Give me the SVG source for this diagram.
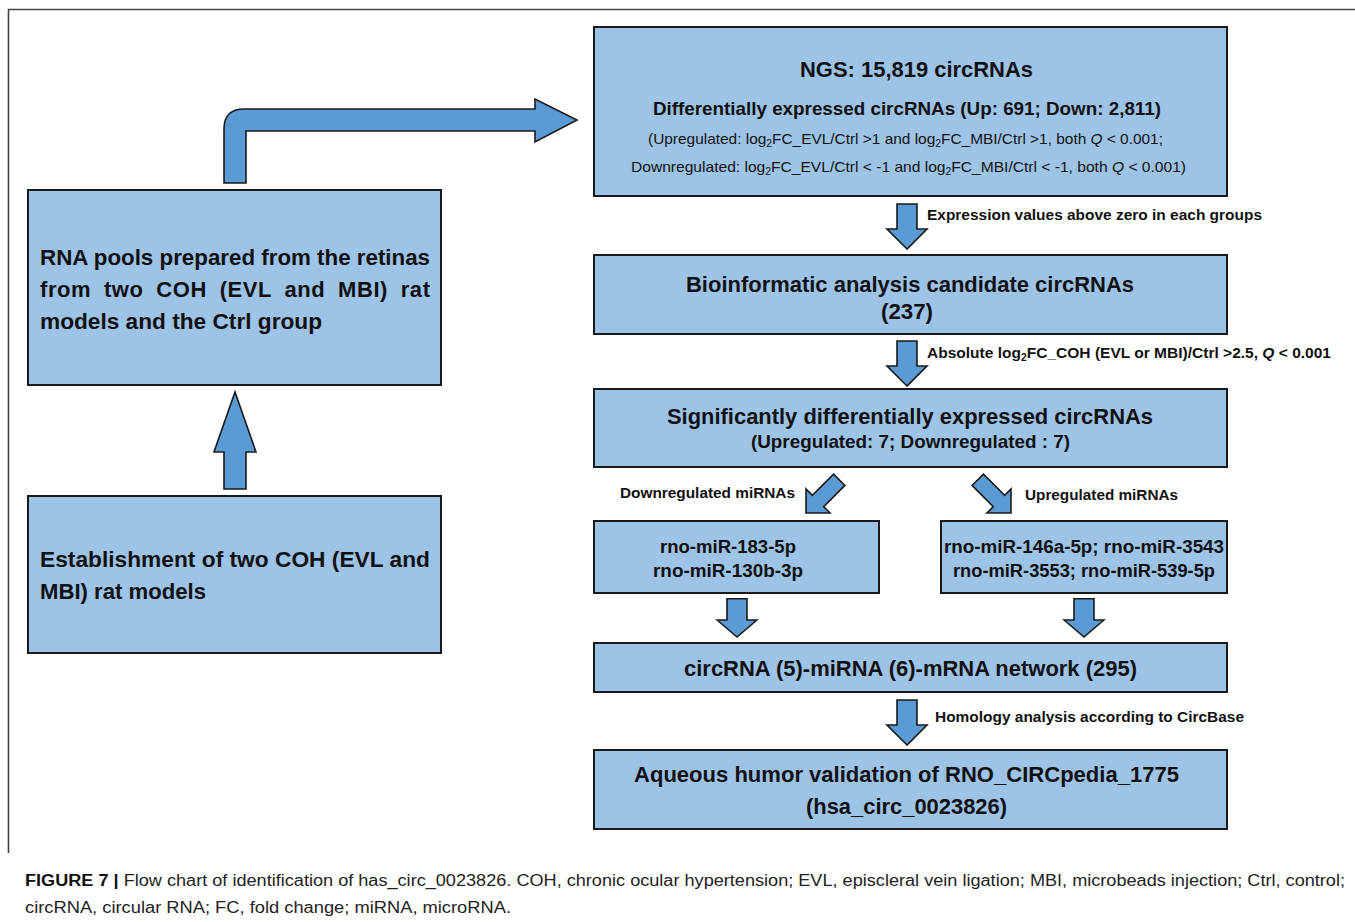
<svg xmlns="http://www.w3.org/2000/svg" width="1355" height="922" viewBox="0 0 1355 922">
<style>
.box{fill:#9dc3e6;stroke:#1a1a1a;stroke-width:2}
.arr{fill:#5b9bd5;stroke:#1a1a1a;stroke-width:1.6;stroke-linejoin:miter}
.t{font-family:"Liberation Sans",Arial,sans-serif;font-weight:bold;fill:#111}
.r{font-family:"Liberation Sans",Arial,sans-serif;fill:#111}
.cap{font-family:"Liberation Sans",Arial,sans-serif;fill:#222;font-size:16px}
</style>
<defs>
<path id="dn" d="M0,0 L-20,-20 L-10,-20 L-10,-45 L10,-45 L10,-20 L20,-20 Z"/>
<path id="dg" d="M0,0 L-17,-17 L-8,-17 L-8,-47 L8,-47 L8,-17 L17,-17 Z"/>
</defs>
<rect width="1355" height="922" fill="#fff"/>
<path d="M8.5,853 L8.5,9.5 L1355,9.5" fill="none" stroke="#444" stroke-width="1.6"/>

<g id="connectors">
<path class="arr" d="M224,183 L224,129 Q224,109 244,109 L535,109 L535,99 L577,120 L535,142 L535,131 L246,131 L246,183 Z"/>
<path class="arr" d="M235,392 L256,452 L246,452 L246,489 L224,489 L224,452 L214,452 Z"/>
<use href="#dn" class="arr" transform="translate(907,249)"/>
<use href="#dn" class="arr" transform="translate(907,386)"/>
<use href="#dg" class="arr" transform="translate(806,513) rotate(45)"/>
<use href="#dg" class="arr" transform="translate(1011,513) rotate(-45)"/>
<use href="#dn" class="arr" transform="translate(737,637) scale(1,0.85)"/>
<use href="#dn" class="arr" transform="translate(1084,637) scale(1,0.85)"/>
<use href="#dn" class="arr" transform="translate(907,745)"/>
<text class="t" font-size="15" x="927" y="220" textLength="335" lengthAdjust="spacingAndGlyphs">Expression  values above zero in each groups</text>
<text class="t" font-size="15" x="927" y="358" textLength="404" lengthAdjust="spacingAndGlyphs">Absolute  log<tspan font-size="10" dy="3">2</tspan><tspan dy="-3">FC_COH  (EVL or MBI)/Ctrl &gt;2.5, </tspan><tspan font-style="italic">Q</tspan> &lt; 0.001</text>
<text class="t" font-size="15" x="620" y="498" textLength="175" lengthAdjust="spacingAndGlyphs">Downregulated miRNAs</text>
<text class="t" font-size="15" x="1025" y="500" textLength="153" lengthAdjust="spacingAndGlyphs">Upregulated miRNAs</text>
<text class="t" font-size="15" x="935" y="722" textLength="309" lengthAdjust="spacingAndGlyphs">Homology analysis according to CircBase</text>
</g>

<g id="ngs">
<rect class="box" x="594" y="27" width="633" height="169"/>
<text class="t" font-size="22.5" x="800" y="77" textLength="233" lengthAdjust="spacingAndGlyphs">NGS: 15,819 circRNAs</text>
<text class="t" font-size="18.5" x="653" y="115" textLength="508" lengthAdjust="spacingAndGlyphs">Differentially  expressed circRNAs (Up: 691; Down: 2,811)</text>
<text class="r" font-size="15" x="648" y="144" textLength="515" lengthAdjust="spacingAndGlyphs">(Upregulated:  log<tspan font-size="10" dy="3">2</tspan><tspan dy="-3">FC_EVL/Ctrl &gt;1 and log</tspan><tspan font-size="10" dy="3">2</tspan><tspan dy="-3">FC_MBI/Ctrl  &gt;1, both </tspan><tspan font-style="italic">Q</tspan> &lt; 0.001;</text>
<text class="r" font-size="15" x="631" y="172" textLength="555" lengthAdjust="spacingAndGlyphs">Downregulated:  log<tspan font-size="10" dy="3">2</tspan><tspan dy="-3">FC_EVL/Ctrl  &lt; -1 and log</tspan><tspan font-size="10" dy="3">2</tspan><tspan dy="-3">FC_MBI/Ctrl  &lt; -1, both </tspan><tspan font-style="italic">Q</tspan> &lt; 0.001)</text>
</g>

<g id="bioinf">
<rect class="box" x="594" y="255" width="633" height="79"/>
<text class="t" font-size="22.5" x="686" y="292" textLength="448" lengthAdjust="spacingAndGlyphs">Bioinformatic analysis candidate circRNAs</text>
<text class="t" font-size="22.5" x="881" y="319" textLength="52" lengthAdjust="spacingAndGlyphs">(237)</text>
</g>

<g id="signif">
<rect class="box" x="594" y="389" width="633" height="78"/>
<text class="t" font-size="22.5" x="667" y="424" textLength="486" lengthAdjust="spacingAndGlyphs">Significantly differentially expressed circRNAs</text>
<text class="t" font-size="18.5" x="751" y="448" textLength="319" lengthAdjust="spacingAndGlyphs">(Upregulated: 7; Downregulated : 7)</text>
</g>

<g id="mirdown">
<rect class="box" x="594" y="521" width="285" height="72"/>
<text class="t" font-size="18" x="660" y="553" textLength="136" lengthAdjust="spacingAndGlyphs">rno-miR-183-5p</text>
<text class="t" font-size="18" x="653" y="577" textLength="150" lengthAdjust="spacingAndGlyphs">rno-miR-130b-3p</text>
</g>

<g id="mirup">
<rect class="box" x="941" y="521" width="286" height="72"/>
<text class="t" font-size="18" x="944" y="553" textLength="280" lengthAdjust="spacingAndGlyphs">rno-miR-146a-5p; rno-miR-3543</text>
<text class="t" font-size="18" x="953" y="577" textLength="262" lengthAdjust="spacingAndGlyphs">rno-miR-3553; rno-miR-539-5p</text>
</g>

<g id="network">
<rect class="box" x="594" y="643" width="633" height="49"/>
<text class="t" font-size="22.5" x="684" y="676" textLength="453" lengthAdjust="spacingAndGlyphs">circRNA (5)-miRNA (6)-mRNA network (295)</text>
</g>

<g id="aqueous">
<rect class="box" x="594" y="750" width="633" height="79"/>
<text class="t" font-size="22.5" x="634" y="782" textLength="545" lengthAdjust="spacingAndGlyphs">Aqueous humor validation of RNO_CIRCpedia_1775</text>
<text class="t" font-size="22.5" x="806" y="814" textLength="201" lengthAdjust="spacingAndGlyphs">(hsa_circ_0023826)</text>
</g>

<g id="rnapools">
<rect class="box" x="28" y="190" width="413" height="195"/>
<text class="t" font-size="22" x="40" y="265" textLength="390" lengthAdjust="spacingAndGlyphs">RNA pools prepared from the retinas</text>
<text class="t" font-size="22" x="40" y="297" textLength="390" lengthAdjust="spacing" word-spacing="6">from two COH (EVL and MBI) rat</text>
<text class="t" font-size="22" x="40" y="329" textLength="282" lengthAdjust="spacingAndGlyphs">models and the Ctrl  group</text>
</g>

<g id="establish">
<rect class="box" x="28" y="496" width="413" height="157"/>
<text class="t" font-size="22" x="40" y="567" textLength="390" lengthAdjust="spacingAndGlyphs">Establishment of two COH (EVL and</text>
<text class="t" font-size="22" x="40" y="599" textLength="166" lengthAdjust="spacingAndGlyphs">MBI) rat models</text>
</g>

<g id="caption">
<text class="cap" x="25" y="886" textLength="1320" lengthAdjust="spacingAndGlyphs"><tspan font-weight="bold" fill="#111">FIGURE 7 | </tspan>Flow chart of identification of has_circ_0023826. COH, chronic ocular hypertension; EVL, episcleral vein ligation; MBI, microbeads injection; Ctrl, control;</text>
<text class="cap" x="25" y="913" textLength="486" lengthAdjust="spacingAndGlyphs">circRNA, circular RNA; FC,  fold change; miRNA,  microRNA.</text>
</g>
</svg>
